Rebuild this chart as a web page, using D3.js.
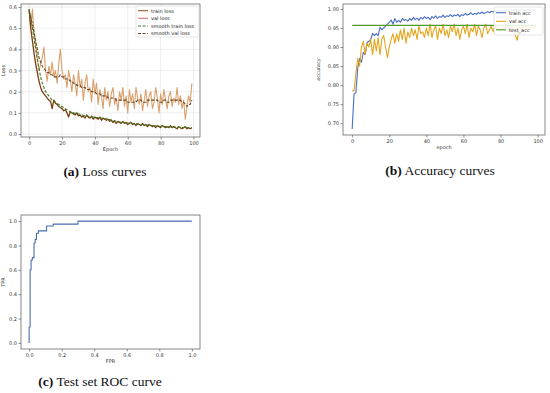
<!DOCTYPE html>
<html>
<head>
<meta charset="utf-8">
<script src="https://cdn.jsdelivr.net/npm/d3@7"></script>
<style>
  body { margin: 0; background: #fff; }
</style>
</head>
<body>
<svg id="fig" width="550" height="393"></svg>
<script>
// ---- data ----
const epochs = d3.range(100);

const trainLoss = [0.59,0.50,0.44,0.38,0.33,0.29,0.25,0.22,0.20,0.19,
  0.18,0.17,0.16,0.155,0.12,0.16,0.145,0.14,0.13,0.125,
  0.12,0.11,0.115,0.10,0.08,0.105,0.10,0.095,0.09,0.10,
  0.085,0.09,0.08,0.085,0.075,0.09,0.08,0.075,0.085,0.07,
  0.08,0.075,0.07,0.08,0.065,0.075,0.07,0.065,0.07,0.06,
  0.065,0.055,0.06,0.05,0.06,0.055,0.05,0.06,0.05,0.055,
  0.045,0.05,0.055,0.045,0.05,0.04,0.05,0.045,0.04,0.05,
  0.04,0.045,0.035,0.045,0.04,0.035,0.04,0.03,0.04,0.035,
  0.03,0.04,0.035,0.03,0.035,0.03,0.04,0.03,0.035,0.03,
  0.025,0.035,0.03,0.025,0.03,0.035,0.025,0.03,0.025,0.03];

const valLoss = [0.58,0.50,0.59,0.48,0.42,0.36,0.30,0.33,0.36,0.41,
  0.30,0.25,0.32,0.28,0.34,0.27,0.30,0.24,0.33,0.40,
  0.30,0.26,0.28,0.22,0.30,0.26,0.20,0.28,0.24,0.18,
  0.30,0.22,0.26,0.16,0.24,0.28,0.20,0.22,0.15,0.26,
  0.19,0.24,0.14,0.21,0.18,0.12,0.22,0.16,0.20,0.13,
  0.19,0.22,0.14,0.17,0.11,0.20,0.16,0.22,0.13,0.18,
  0.10,0.21,0.15,0.19,0.12,0.22,0.17,0.14,0.19,0.11,
  0.16,0.21,0.13,0.18,0.20,0.12,0.15,0.22,0.17,0.10,
  0.19,0.14,0.21,0.16,0.12,0.18,0.20,0.13,0.17,0.15,
  0.22,0.14,0.18,0.12,0.16,0.07,0.13,0.18,0.15,0.24];

const smoothTrainLoss = [0.59,0.55,0.50,0.45,0.40,0.35,0.31,0.27,0.24,0.22,
  0.20,0.19,0.18,0.17,0.16,0.155,0.15,0.145,0.14,0.135,
  0.13,0.125,0.12,0.115,0.11,0.105,0.10,0.10,0.098,0.097,
  0.095,0.093,0.09,0.088,0.086,0.085,0.084,0.082,0.081,0.08,
  0.079,0.078,0.077,0.076,0.075,0.074,0.073,0.072,0.07,0.068,
  0.066,0.064,0.062,0.06,0.058,0.057,0.056,0.055,0.054,0.053,
  0.052,0.051,0.05,0.05,0.049,0.048,0.047,0.046,0.045,0.045,
  0.044,0.043,0.042,0.041,0.04,0.04,0.039,0.038,0.038,0.037,
  0.036,0.036,0.035,0.035,0.034,0.034,0.034,0.033,0.033,0.033,
  0.032,0.032,0.031,0.031,0.031,0.031,0.030,0.030,0.030,0.030];

const smoothValLoss = [0.58,0.55,0.52,0.48,0.44,0.40,0.36,0.34,0.32,0.31,
  0.30,0.29,0.29,0.28,0.28,0.27,0.27,0.27,0.27,0.28,
  0.27,0.27,0.26,0.26,0.26,0.25,0.25,0.24,0.24,0.23,
  0.23,0.23,0.22,0.22,0.22,0.21,0.21,0.21,0.20,0.20,
  0.20,0.19,0.19,0.19,0.18,0.18,0.18,0.18,0.17,0.17,
  0.17,0.17,0.17,0.16,0.16,0.16,0.16,0.16,0.16,0.16,
  0.15,0.15,0.15,0.15,0.15,0.15,0.16,0.16,0.16,0.15,
  0.15,0.15,0.16,0.16,0.16,0.16,0.16,0.16,0.16,0.15,
  0.15,0.15,0.16,0.16,0.15,0.15,0.16,0.16,0.16,0.16,
  0.16,0.16,0.16,0.15,0.15,0.14,0.13,0.14,0.14,0.16];

const trainAcc = [0.685,0.777,0.78,0.846,0.87,0.86,0.886,0.88,0.912,0.915,
  0.92,0.936,0.93,0.935,0.93,0.952,0.945,0.95,0.955,0.96,
  0.965,0.971,0.96,0.975,0.965,0.97,0.965,0.975,0.97,0.972,
  0.968,0.975,0.97,0.978,0.972,0.976,0.97,0.978,0.974,0.98,
  0.975,0.978,0.972,0.98,0.976,0.982,0.975,0.98,0.978,0.984,
  0.978,0.982,0.98,0.985,0.98,0.984,0.982,0.986,0.98,0.985,
  0.983,0.988,0.984,0.986,0.99,0.985,0.988,0.986,0.99,0.988,
  0.992,0.988,0.99,0.993,0.99,0.994,0.992,0.995,0.993,0.996,
  0.994,0.996,0.995,0.997,0.995,0.996,0.997,0.995,0.997,0.998,
  0.996,0.997,0.998,0.996,0.997,0.998,0.997,0.998,0.997,0.998];

const valAcc = [0.785,0.785,0.83,0.87,0.85,0.90,0.915,0.88,0.91,0.90,
  0.92,0.88,0.92,0.89,0.925,0.88,0.92,0.93,0.90,0.872,
  0.90,0.92,0.935,0.91,0.935,0.915,0.945,0.92,0.95,0.91,
  0.94,0.925,0.95,0.93,0.945,0.92,0.955,0.935,0.94,0.925,
  0.95,0.93,0.96,0.925,0.945,0.955,0.92,0.95,0.935,0.96,
  0.93,0.945,0.925,0.955,0.94,0.96,0.93,0.95,0.92,0.945,
  0.955,0.935,0.96,0.925,0.95,0.94,0.96,0.93,0.955,0.945,
  0.925,0.95,0.96,0.935,0.945,0.955,0.94,0.96,0.945,0.95,
  0.94,0.955,0.945,0.96,0.95,0.94,0.955,0.945,0.93,0.918,
  0.95,0.955,0.945,0.96,0.95,0.955,0.945,0.96,0.95,0.955];

const testAcc = 0.957;

// ROC step curve (fpr, tpr)
const rocFpr = [0, 0, 0.006, 0.006, 0.012, 0.012, 0.02, 0.02, 0.03, 0.03, 0.037, 0.037,
  0.045, 0.045, 0.057, 0.057, 0.107, 0.107, 0.148, 0.148, 0.3, 0.3, 1.0];
const rocTpr = [0, 0.13, 0.13, 0.6, 0.6, 0.68, 0.68, 0.7, 0.7, 0.82, 0.82, 0.85,
  0.85, 0.9, 0.9, 0.92, 0.92, 0.96, 0.96, 0.975, 0.975, 1.0, 1.0];

// tick labels
const epochTicks = [0, 20, 40, 60, 80, 100];
const lossTicks = [0.0, 0.1, 0.2, 0.3, 0.4, 0.5, 0.6];
const accTicks = [0.70, 0.75, 0.80, 0.85, 0.90, 0.95, 1.00];
const rocTicks = [0.0, 0.2, 0.4, 0.6, 0.8, 1.0];

const svg = d3.select("#fig");
const FS = 5;
const SANS = "DejaVu Sans, sans-serif";

function panel(box, xdom, ydom, opt) {
  const x = d3.scaleLinear().domain(xdom).range([box.l, box.r]);
  const y = d3.scaleLinear().domain(ydom).range([box.b, box.t]);
  const g = svg.append("g");

  if (opt.grid) {
    g.append("g").selectAll("line").data(opt.xt).join("line")
      .attr("x1", d => x(d)).attr("x2", d => x(d))
      .attr("y1", box.t).attr("y2", box.b)
      .attr("stroke", "#e2e2e2").attr("stroke-width", 0.6);
    g.append("g").selectAll("line").data(opt.yt).join("line")
      .attr("y1", d => y(d)).attr("y2", d => y(d))
      .attr("x1", box.l).attr("x2", box.r)
      .attr("stroke", "#e2e2e2").attr("stroke-width", 0.6);
  }

  const xa = g.append("g").attr("transform", `translate(0,${box.b})`)
    .call(d3.axisBottom(x).tickValues(opt.xt).tickFormat(opt.xf).tickSize(2.5).tickPadding(1.5));
  const ya = g.append("g").attr("transform", `translate(${box.l},0)`)
    .call(d3.axisLeft(y).tickValues(opt.yt).tickFormat(opt.yf).tickSize(2.5).tickPadding(1.5));
  [xa, ya].forEach(a => {
    a.select(".domain").remove();
    a.selectAll("line").attr("stroke", "#444").attr("stroke-width", 0.6);
    a.selectAll("text").attr("font-size", FS).attr("fill", "#333")
      .style("font-family", SANS);
  });

  g.append("text").attr("x", (box.l + box.r) / 2).attr("y", box.b + 14)
    .attr("text-anchor", "middle").attr("font-size", FS).attr("fill", "#333")
    .style("font-family", SANS).text(opt.xl);
  g.append("text")
    .attr("transform", `translate(${opt.ylx},${(box.t + box.b) / 2}) rotate(-90)`)
    .attr("text-anchor", "middle").attr("font-size", FS).attr("fill", "#333")
    .style("font-family", SANS).text(opt.yl);

  return { g, x, y, box };
}

function drawLine(p, xs, ys, color, dash, w) {
  const line = d3.line().x((d, i) => p.x(xs[i])).y(d => p.y(d));
  p.g.append("path").datum(ys)
    .attr("d", line)
    .attr("fill", "none")
    .attr("stroke", color)
    .attr("stroke-width", w || 1.1)
    .attr("stroke-linejoin", "round")
    .attr("stroke-dasharray", dash || null);
}

function legend(p, x0, y0, w, h, items, rows) {
  const lg = p.g.append("g");
  lg.append("rect").attr("x", x0).attr("y", y0).attr("width", w).attr("height", h)
    .attr("rx", 1.5).attr("fill", "#fff").attr("fill-opacity", 0.85)
    .attr("stroke", "#d5d5d5").attr("stroke-width", 0.6);
  items.forEach((it, i) => {
    const yy = rows[i];
    lg.append("line").attr("x1", x0 + 2).attr("x2", x0 + 12)
      .attr("y1", yy).attr("y2", yy)
      .attr("stroke", it.c).attr("stroke-width", 1.1)
      .attr("stroke-dasharray", it.d || null);
    lg.append("text").attr("x", x0 + 15).attr("y", yy + 1.8)
      .attr("font-size", FS).attr("fill", "#222")
      .style("font-family", SANS).text(it.n);
  });
}

// ---- (a) loss ----
const pa = panel({ l: 21, r: 200, t: 4, b: 137 }, [-4.95, 103.95], [-0.014, 0.614],
  { xt: epochTicks, yt: lossTicks, xf: d3.format("d"), yf: d3.format(".1f"),
    xl: "Epoch", yl: "Loss", ylx: 5, grid: true });
const cTrain = "#7a3f12", cVal = "#d9a06c", cSTrain = "#3b7d23", cSVal = "#6b4420";
drawLine(pa, epochs, valLoss, cVal);
drawLine(pa, epochs, trainLoss, cTrain, null, 1.3);
drawLine(pa, epochs, smoothTrainLoss, cSTrain, "3,1.6");
drawLine(pa, epochs, smoothValLoss, cSVal, "3,1.6");
pa.g.append("rect").attr("x", 21).attr("y", 4).attr("width", 179).attr("height", 133)
  .attr("fill", "none").attr("stroke", "#555").attr("stroke-width", 0.7);
legend(pa, 136, 6, 63, 31, [
  { n: "train loss", c: "#9a5a2a" },
  { n: "val loss", c: "#e8707a" },
  { n: "smooth train loss", c: cSTrain, d: "3,1.6" },
  { n: "smooth val loss", c: cSVal, d: "3,1.6" }
], [10.7, 18.3, 26, 33.5]);

// ---- (b) accuracy ----
const pb = panel({ l: 343, r: 545, t: 4, b: 135 }, [-4.95, 103.95], [0.669, 1.013],
  { xt: epochTicks, yt: accTicks, xf: d3.format("d"), yf: d3.format(".2f"),
    xl: "epoch", yl: "accuracy", ylx: 320, grid: false });
const cTA = "#4a6fc8", cVA = "#e3a51c", cTest = "#4f9a2a";
drawLine(pb, epochs, trainAcc, cTA);
drawLine(pb, epochs, valAcc, cVA);
drawLine(pb, [0, 99], [testAcc, testAcc], cTest);
pb.g.append("rect").attr("x", 343).attr("y", 4).attr("width", 202).attr("height", 131)
  .attr("fill", "none").attr("stroke", "#555").attr("stroke-width", 0.7);
legend(pb, 494, 7, 49, 28, [
  { n: "train acc", c: cTA },
  { n: "val acc", c: cVA },
  { n: "test_acc", c: cTest }
], [12.7, 21.3, 29.8]);

// ---- (c) ROC ----
const pc = panel({ l: 21, r: 200, t: 215, b: 349 }, [-0.05, 1.05], [-0.05, 1.05],
  { xt: rocTicks, yt: rocTicks, xf: d3.format(".1f"), yf: d3.format(".1f"),
    xl: "FPR", yl: "TPR", ylx: 5, grid: false });
drawLine(pc, rocFpr, rocTpr, "#4a6fb0");
pc.g.append("rect").attr("x", 21).attr("y", 215).attr("width", 179).attr("height", 134)
  .attr("fill", "none").attr("stroke", "#555").attr("stroke-width", 0.7);

// ---- captions ----
const captions = [
  { tag: "(a)", txt: " Loss curves", x: 105, y: 176 },
  { tag: "(b)", txt: " Accuracy curves", x: 440, y: 175 },
  { tag: "(c)", txt: " Test set ROC curve", x: 100, y: 386 }
];
captions.forEach(c => {
  const t = svg.append("text").attr("x", c.x).attr("y", c.y)
    .attr("text-anchor", "middle").attr("font-size", 13.5)
    .style("font-family", "Liberation Serif, serif").attr("fill", "#111");
  t.append("tspan").attr("font-weight", "bold").text(c.tag);
  t.append("tspan").text(c.txt);
});
</script>
</body>
</html>
